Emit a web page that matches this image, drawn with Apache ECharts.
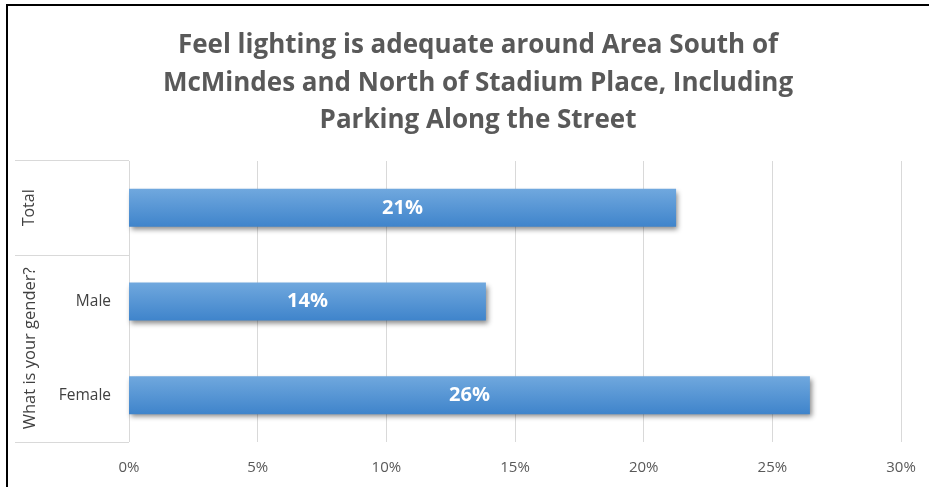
<!DOCTYPE html>
<html>
<head>
<meta charset="utf-8">
<script src="https://cdn.jsdelivr.net/npm/echarts@6/dist/echarts.min.js"></script>
<style>html,body{margin:0;padding:0;background:#fff;}#c{width:929px;height:487px;}</style>
</head>
<body>
<div id="c"></div>
<script>
const titleLines = ['Feel lighting is adequate around Area South of', 'McMindes and North of Stadium Place, Including', 'Parking Along the Street'];
const categories = ['Total', 'Male', 'Female'];
const values = [0.2126, 0.1387, 0.2646];
const valueLabels = ['21%', '14%', '26%'];
const groupLabel = 'What is your gender?';
const xTicks = [0, 0.05, 0.10, 0.15, 0.20, 0.25, 0.30];

const chart = echarts.init(document.getElementById('c'));
const GRID = {left: 129, right: 28, top: 161, bottom: 45};
const option = {
  animation: false,
  title: {
    text: titleLines.join('\n'),
    left: 473, top: 22, textAlign: 'center',
    textStyle: {fontFamily: 'Open Sans', fontWeight: 'bold', fontSize: 26, color: '#595959', lineHeight: 37.5}
  },
  grid: GRID,
  xAxis: {
    type: 'value', min: xTicks[0], max: xTicks[xTicks.length - 1], interval: 0.05,
    axisLine: {show: false}, axisTick: {show: false},
    splitLine: {show: true, lineStyle: {color: '#d9d9d9', width: 1}},
    axisLabel: {margin: 18, color: '#595959', fontFamily: 'Open Sans', fontSize: 15,
      formatter: v => Math.round(v * 100) + '%'}
  },
  yAxis: {
    type: 'category', data: categories, inverse: true,
    axisLine: {show: false}, axisTick: {show: false},
    axisLabel: {margin: 18, color: '#404040', fontFamily: 'Open Sans', fontSize: 15.5,
      formatter: v => v === 'Total' ? '' : v}
  },
  series: [{
    type: 'bar', data: values, barWidth: 38,
    itemStyle: {
      color: new echarts.graphic.LinearGradient(0, 0, 0, 1, [
        {offset: 0, color: '#70a8de'}, {offset: 1, color: '#3f84cb'}]),
      shadowBlur: 5, shadowColor: 'rgba(0,0,0,0.45)', shadowOffsetX: 2, shadowOffsetY: 3
    },
    label: {show: true, position: 'inside', color: '#ffffff', fontFamily: 'Open Sans',
      fontWeight: 'bold', fontSize: 20,
      formatter: p => valueLabels[p.dataIndex]}
  }]
};
chart.setOption(option);

const gTop = GRID.top, gBottom = 487 - GRID.bottom;
const yTotal = chart.convertToPixel({yAxisIndex: 0}, categories[0]);
const yMale = chart.convertToPixel({yAxisIndex: 0}, categories[1]);
const mid = (yTotal + yMale) / 2;
const sepStyle = {stroke: '#d9d9d9', lineWidth: 1};
chart.setOption({
  graphic: [
    {type: 'line', shape: {x1: 15, y1: gTop - 0.5, x2: GRID.left, y2: gTop - 0.5}, style: sepStyle, silent: true},
    {type: 'line', shape: {x1: 15, y1: Math.round(mid) + 0.5, x2: GRID.left, y2: Math.round(mid) + 0.5}, style: sepStyle, silent: true},
    {type: 'line', shape: {x1: 15, y1: gBottom + 0.5, x2: GRID.left, y2: gBottom + 0.5}, style: sepStyle, silent: true},
    {type: 'text', x: 29, y: yTotal, rotation: Math.PI / 2,
      style: {text: 'Total', fill: '#404040', font: '16px "Open Sans"', align: 'center', verticalAlign: 'middle'}},
    {type: 'text', x: 30, y: (mid + gBottom) / 2, rotation: Math.PI / 2,
      style: {text: groupLabel, fill: '#404040', font: '16.5px "Open Sans"', align: 'center', verticalAlign: 'middle'}},
    {type: 'line', shape: {x1: 7, y1: 4, x2: 7, y2: 487}, style: {stroke: '#000', lineWidth: 2}, silent: true},
    {type: 'line', shape: {x1: 6, y1: 5, x2: 929, y2: 5}, style: {stroke: '#000', lineWidth: 2}, silent: true}
  ]
});
</script>
</body>
</html>
